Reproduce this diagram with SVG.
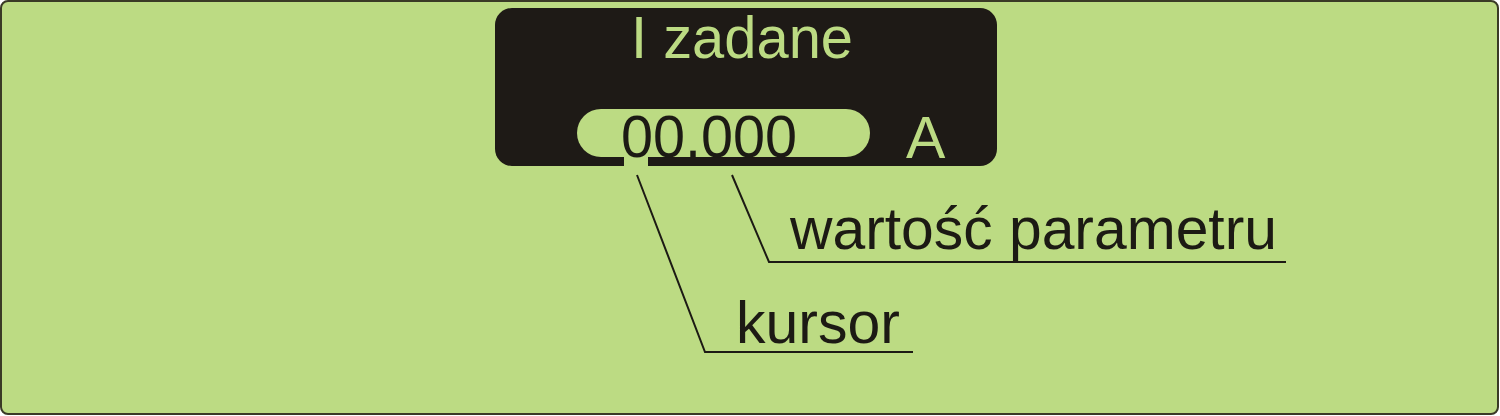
<svg xmlns="http://www.w3.org/2000/svg" width="1500" height="416" viewBox="0 0 1500 416">
<style>
.lcd{fill:#bcdb83;font-family:"Liberation Sans",Arial,sans-serif;font-size:59px}
.lbl{fill:#1c1a14;font-family:"Liberation Sans",Arial,sans-serif;font-size:59px}
.ln{fill:none;stroke:#1c1a14;stroke-width:2}
</style>
<rect x="1" y="1" width="1497" height="413" rx="7" fill="#bcdb83" stroke="#3a3a26" stroke-width="2"/>
<g id="display">
<rect x="495" y="8" width="502" height="158" rx="17" fill="#1e1a16"/>
<rect x="577" y="109" width="293" height="48" rx="24" fill="#bcdb83"/>
<rect x="624" y="157" width="24" height="9" fill="#bcdb83"/>
<text class="lcd" x="631" y="58" textLength="222" lengthAdjust="spacingAndGlyphs">I zadane</text>
<text class="lbl" x="621" y="157" font-size="56" textLength="176" lengthAdjust="spacingAndGlyphs">00.000</text>
<text class="lcd" x="906" y="158" font-size="56">A</text>
</g>
<g id="connectors">
<polyline class="ln" points="637,175 705,352 913,352"/>
<polyline class="ln" points="732,175 769,262 1286,262"/>
</g>
<g id="label-kursor">
<text class="lbl" x="736" y="343" textLength="164" lengthAdjust="spacingAndGlyphs">kursor</text>
</g>
<g id="label-wartosc">
<text class="lbl" x="790" y="249" textLength="487" lengthAdjust="spacingAndGlyphs">wartość parametru</text>
</g>
</svg>
